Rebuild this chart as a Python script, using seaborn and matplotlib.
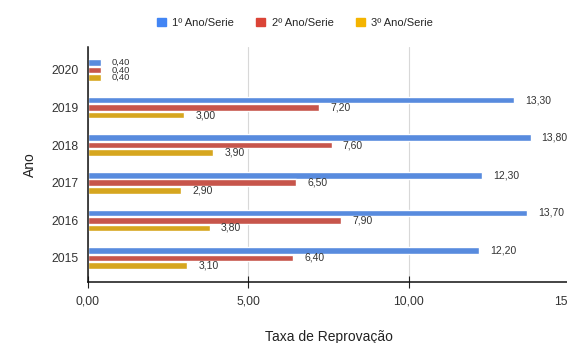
import matplotlib
matplotlib.use("Agg")
import matplotlib.pyplot as plt
import seaborn as sns
import pandas as pd

anos = ["2020", "2019", "2018", "2017", "2016", "2015"]
series = ["1º Ano/Serie", "2º Ano/Serie", "3º Ano/Serie"]
serie1 = [0.40, 13.30, 13.80, 12.30, 13.70, 12.20]
serie2 = [0.40, 7.20, 7.60, 6.50, 7.90, 6.40]
serie3 = [0.40, 3.00, 3.90, 2.90, 3.80, 3.10]
cores = ["#4285F4", "#DB4437", "#F4B400"]

df = pd.DataFrame({
    "Ano": anos * 3,
    "Serie": [s for s in series for _ in anos],
    "Taxa": serie1 + serie2 + serie3,
})

sns.set_theme(style="white")
plt.rcParams["font.family"] = ["Liberation Sans", "DejaVu Sans"]

fig = plt.figure(figsize=(5.67, 3.43), dpi=100)
ax = fig.add_axes([88 / 567, 1 - 282 / 343, 481 / 567, (282 - 47) / 343])

sns.barplot(data=df, y="Ano", x="Taxa", hue="Serie", order=anos,
            hue_order=series, palette=cores, orient="h", width=0.6,
            gap=0.12, ax=ax, legend=False, errorbar=None)

for cont in ax.containers:
    labels = [f"{v:.2f}".replace(".", ",") for v in cont.datavalues]
    texts = ax.bar_label(cont, labels=labels, padding=8, fontsize=7.5, color="#333333")
    # the first group's bars are tiny and close together: smaller labels there
    texts[0].set_fontsize(6.8)

ax.set_ylim(5.64, -0.61)
ax.set_xlim(0, 15)
ax.set_xticks([0, 5, 10, 15])
ax.set_xticklabels(["0,00", "5,00", "10,00", "15,00"])
ax.xaxis.grid(True, color="#d8d8d8", linewidth=0.8)
ax.set_axisbelow(True)
ax.tick_params(axis="x", direction="inout", length=8, width=0.8, color="#222222",
               labelsize=8.7, labelcolor="#333333", pad=6, bottom=True)
ax.tick_params(axis="y", length=0, labelsize=8.7, labelcolor="#333333", pad=7)

for side in ["top", "right"]:
    ax.spines[side].set_visible(False)
for side in ["left", "bottom"]:
    ax.spines[side].set_color("#111111")
    ax.spines[side].set_linewidth(1.1)

ax.set_xlabel("Taxa de Reprovação", fontsize=10, color="#222222", labelpad=16)
ax.set_ylabel("Ano", fontsize=10, color="#222222", labelpad=10)

handles = [plt.Rectangle((0, 0), 1, 1, color=c) for c in cores]
fig.legend(handles, series, loc="center", bbox_to_anchor=(295 / 567, 1 - 23 / 343),
           ncol=3, frameon=False, fontsize=8, handlelength=0.8, handleheight=0.8,
           columnspacing=2.0, handletextpad=0.6)

fig.savefig("out.png", dpi=100)
